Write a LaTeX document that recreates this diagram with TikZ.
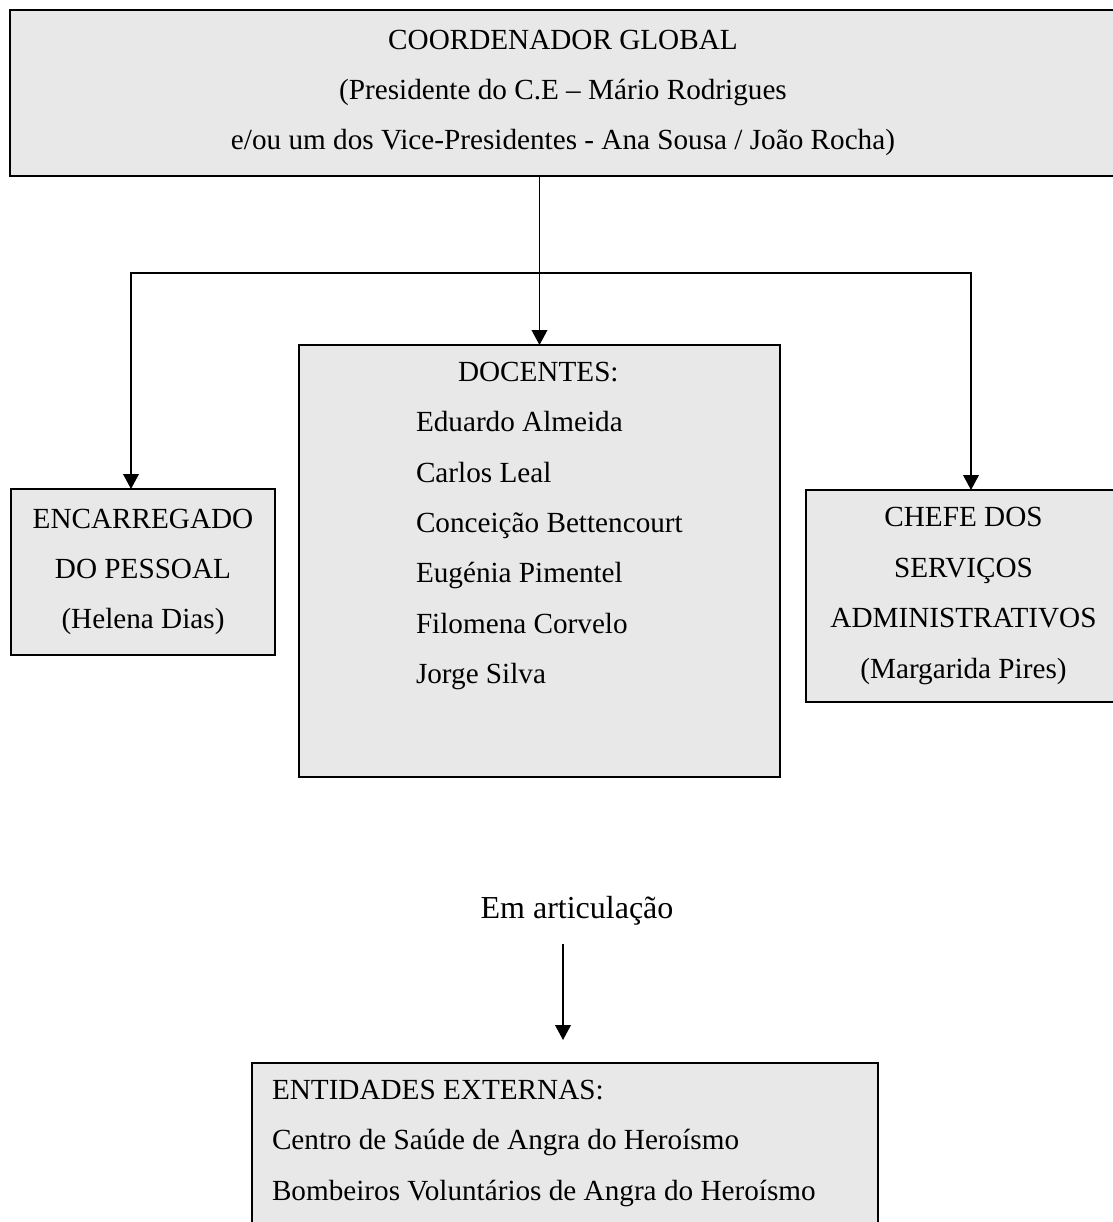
\documentclass[tikz,border=0pt]{standalone}
\usepackage{fontspec}
\setmainfont{Liberation Serif}
\usetikzlibrary{arrows.meta}
\definecolor{boxgrey}{RGB}{232,232,232}

\begin{document}
\begin{tikzpicture}[x=0.5pt, y=-0.5pt, >={Triangle[width=7.8pt,length=7.5pt]},
  every node/.style={font=\fontsize{14.6pt}{25.2pt}\selectfont, inner sep=0pt, outer sep=0pt},
  box/.style={draw, fill=boxgrey, line width=0.85pt, anchor=north west},
  link/.style={line width=0.9pt}]
\useasboundingbox (0,0) rectangle (1113,1222);
\node[box, align=center, minimum width=553pt, minimum height=83pt] (coordenador) at (10,10)
  {COORDENADOR GLOBAL\\(Presidente do C.E – Mário Rodrigues\\e/ou um dos Vice-Presidentes - Ana Sousa / João Rocha)};
\node[box, minimum width=240.5pt, minimum height=216pt] (docentes) at (299,345) {};
\node[align=left, anchor=north west] (nomes) at (416,362)
  {\hspace*{21pt}DOCENTES:\\Eduardo Almeida\\Carlos Leal\\Conceição Bettencourt\\Eugénia Pimentel\\Filomena Corvelo\\Jorge Silva};
\node[box, align=center, minimum width=132pt, minimum height=83pt] (encarregado) at (11,489)
  {ENCARREGADO\\DO PESSOAL\\(Helena Dias)};
\node[box, align=center, minimum width=157.5pt, minimum height=106pt] (chefe) at (806,490)
  {CHEFE DOS\\SERVIÇOS\\ADMINISTRATIVOS\\(Margarida Pires)};
\node[anchor=base, font=\fontsize{16pt}{27pt}\selectfont] (articulacao) at (577,918) {Em articulação};
\node[box, minimum width=313pt, minimum height=100pt] (externas) at (252,1063) {};
\node[align=left, anchor=north west] (entidades) at (272,1080)
  {ENTIDADES EXTERNAS:\\Centro de Saúde de Angra do Heroísmo\\Bombeiros Voluntários de Angra do Heroísmo};
\coordinate (ramo) at (539.5,273);
\coordinate (ramoesq) at (131,273);
\coordinate (ramodir) at (971,273);
\coordinate (articini) at (563,944);
\coordinate (articfim) at (563,1040);
\draw[link,->] (coordenador.south -| docentes.north) -- (docentes.north);
\draw[link,->] (ramo) -- (ramoesq) -- (ramoesq |- encarregado.north);
\draw[link,->] (ramo) -- (ramodir) -- (ramodir |- chefe.north);
\draw[link,->] (articini) -- (articfim);
\end{tikzpicture}
\end{document}
